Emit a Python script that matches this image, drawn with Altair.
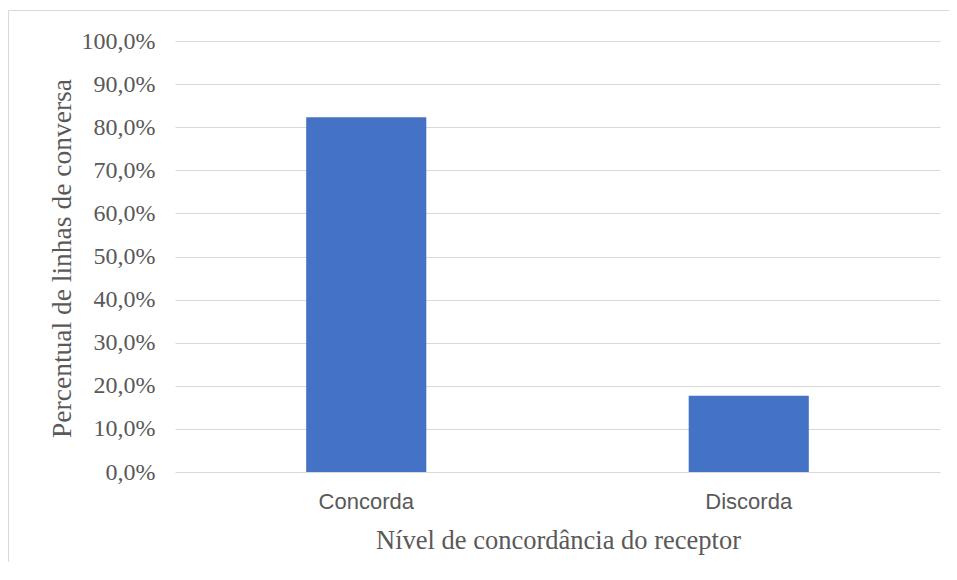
import altair as alt
import pandas as pd

categories = ["Concorda", "Discorda"]
values = [82.3, 17.7]
y_ticks = [0, 10, 20, 30, 40, 50, 60, 70, 80, 90, 100]

df = pd.DataFrame({"cat": categories, "val": values})

TEXT = "#595959"
GRID = "#d9d9d9"

bars = alt.Chart(df).mark_bar(color="#4472C4").encode(
    x=alt.X(
        "cat:N",
        sort=categories,
        scale=alt.Scale(paddingInner=0.686, paddingOuter=0.343),
        axis=alt.Axis(
            title="Nível de concordância do receptor",
            labelAngle=0,
            labelFont="Liberation Sans",
            labelFontSize=22,
            labelColor=TEXT,
            labelPadding=19,
            labelBaseline="top",
            ticks=False,
            domain=False,
            titleFont="Liberation Serif",
            titleFontSize=26.5,
            titleFontWeight="normal",
            titleColor=TEXT,
            titleX=383,
            titleY=76,
            titleAlign="center",
            titleBaseline="alphabetic",
        ),
    ),
    y=alt.Y(
        "val:Q",
        scale=alt.Scale(domain=[0, 100]),
        axis=alt.Axis(
            title="Percentual de linhas de conversa",
            values=y_ticks,
            labelExpr="replace(format(datum.value, '.1f'), '.', ',') + '%'",
            labelFont="Liberation Serif",
            labelFontSize=24,
            labelColor=TEXT,
            labelPadding=20,
            ticks=False,
            domain=False,
            grid=True,
            gridColor=GRID,
            gridWidth=1,
            titleFont="Liberation Serif",
            titleFontSize=27.5,
            titleFontWeight="normal",
            titleColor=TEXT,
            titleAngle=-90,
            titleX=-105,
            titleY=217,
            titleAlign="center",
            titleBaseline="alphabetic",
        ),
    ),
)

border = alt.Chart(alt.Data(values=[{"a": 1}])).mark_rect(
    filled=False, stroke=GRID, strokeWidth=1
).encode(
    x=alt.value(-166.5),
    x2=alt.value(900),
    y=alt.value(-30.5),
    y2=alt.value(700),
)

chart = alt.layer(border, bars).properties(
    width=765,
    height=431,
    padding={"left": 167, "top": 33, "right": 9, "bottom": 90},
    autosize=alt.AutoSizeParams(type="none"),
    background="white",
).configure_view(stroke=None)

chart.save("out.html", embed_options={"renderer": "svg", "actions": False})
